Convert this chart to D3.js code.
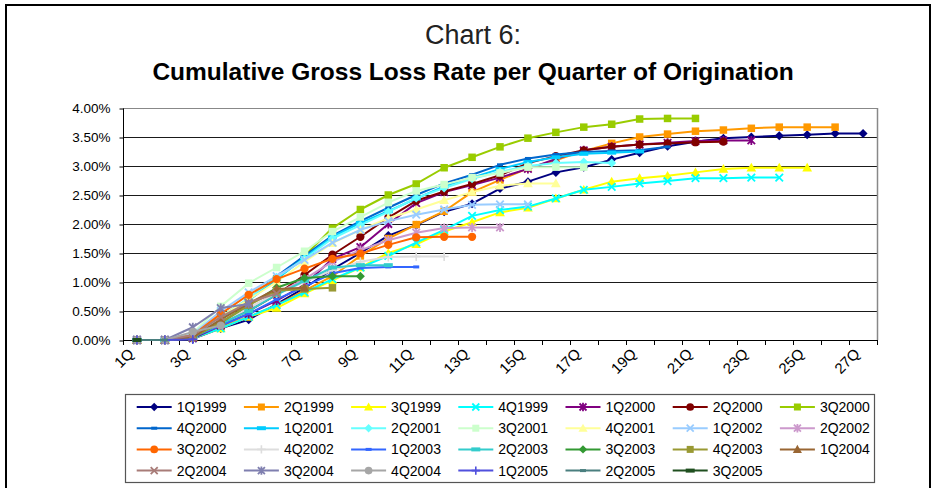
<!DOCTYPE html>
<html><head><meta charset="utf-8">
<script src="https://cdn.jsdelivr.net/npm/d3@7/dist/d3.min.js"></script>
<style>
html,body{margin:0;padding:0;background:#fff;}
svg{display:block;}
text{font-family:"Liberation Sans",Arial,sans-serif;}
</style></head>
<body>
<svg id="chart" width="937" height="488"></svg>
<script>
// ---------- DATA ----------
const categories = d3.range(1, 28).map(i => i + "Q");
const xTickLabels = categories.filter((d, i) => i % 2 === 0);
const yTicks = [0, 0.5, 1, 1.5, 2, 2.5, 3, 3.5, 4];

const seriesNames = ["1Q1999","2Q1999","3Q1999","4Q1999","1Q2000","2Q2000","3Q2000",
  "4Q2000","1Q2001","2Q2001","3Q2001","4Q2001","1Q2002","2Q2002",
  "3Q2002","4Q2002","1Q2003","2Q2003","3Q2003","4Q2003","1Q2004",
  "2Q2004","3Q2004","4Q2004","1Q2005","2Q2005","3Q2005"];

const seriesColors = ["#000080","#FF9900","#FFFF00","#00FFFF","#800080","#800000","#99CC00",
  "#0066CC","#00CCFF","#66FFFF","#CCFFCC","#FFFF99","#99CCFF","#CC99CC",
  "#FF6600","#DDDDDD","#3366FF","#33CCCC","#339933","#999933","#996633",
  "#A87C78","#7F7FAF","#A6A6A6","#5050DD","#4A7F7F","#1F4F1F"];

const seriesMarkers = ["diamond","square","triangle","x","asterisk","circle","square",
  "sdash","ldash","diamond","square","triangle","x","asterisk",
  "circle","plus","sdash","ldash","diamond","square","triangle",
  "x","asterisk","circle","plus","sdash","ldash"];

// cumulative gross loss rate (%) by quarter since origination
const s1Q1999 = [0,0,0.02,0.2,0.35,0.62,0.9,1.22,1.5,1.8,1.98,2.21,2.35,2.61,2.73,2.89,2.98,3.11,3.23,3.34,3.42,3.48,3.5,3.52,3.54,3.56,3.56];
const s2Q1999 = [0,0,0.05,0.22,0.4,0.6,0.85,1.1,1.45,1.75,1.99,2.22,2.55,2.76,2.96,3.1,3.26,3.39,3.5,3.55,3.6,3.62,3.65,3.67,3.67,3.67];
const s3Q1999 = [0,0,0.03,0.2,0.4,0.55,0.8,1.03,1.25,1.5,1.65,1.87,2.03,2.2,2.28,2.44,2.59,2.73,2.79,2.83,2.89,2.95,2.97,2.97,2.97];
const s4Q1999 = [0,0,0.03,0.2,0.4,0.6,0.82,1.05,1.25,1.45,1.68,1.9,2.14,2.24,2.3,2.44,2.59,2.64,2.7,2.74,2.79,2.79,2.8,2.8];
const s1Q2000 = [0,0,0.03,0.25,0.45,0.68,0.95,1.4,1.6,2.0,2.36,2.55,2.67,2.8,2.95,3.12,3.27,3.33,3.37,3.4,3.43,3.44,3.44];
const s2Q2000 = [0,0,0.05,0.3,0.5,0.78,1.12,1.47,1.78,2.11,2.4,2.56,2.69,2.84,3.05,3.17,3.27,3.33,3.37,3.39,3.41,3.42];
const s3Q2000 = [0,0,0.05,0.35,0.7,1.05,1.45,1.93,2.25,2.5,2.69,2.97,3.15,3.33,3.48,3.58,3.67,3.72,3.81,3.82,3.82];
const s4Q2000 = [0,0,0.1,0.4,0.7,1.1,1.45,1.8,2.05,2.28,2.5,2.7,2.85,3.02,3.13,3.2,3.24,3.26,3.27,3.33];
const s1Q2001 = [0,0,0.08,0.38,0.68,1.05,1.42,1.78,2.02,2.22,2.44,2.65,2.8,2.95,3.07,3.15,3.21,3.23,3.25];
const s2Q2001 = [0,0,0.08,0.4,0.72,1.08,1.4,1.75,1.98,2.21,2.45,2.62,2.78,2.9,3.0,3.05,3.07,3.05];
const s3Q2001 = [0,0,0.12,0.58,0.98,1.25,1.53,1.87,2.12,2.37,2.57,2.68,2.8,2.88,2.98,2.98,2.98];
const s4Q2001 = [0,0,0.08,0.4,0.7,1.0,1.35,1.67,1.9,2.1,2.25,2.41,2.55,2.66,2.7,2.7];
const s1Q2002 = [0,0,0.1,0.5,0.82,1.1,1.38,1.68,1.9,2.05,2.16,2.25,2.33,2.34,2.34];
const s2Q2002 = [0,0,0.05,0.3,0.55,0.8,1.05,1.35,1.55,1.72,1.85,1.93,1.94,1.94];
const s3Q2002 = [0,0,0.08,0.45,0.78,1.05,1.23,1.4,1.49,1.64,1.77,1.78,1.78];
const s4Q2002 = [0,0,0.05,0.3,0.55,0.8,1.0,1.2,1.35,1.43,1.44,1.44];
const s1Q2003 = [0,0,0.05,0.25,0.45,0.7,0.92,1.15,1.24,1.26,1.26];
const s2Q2003 = [0,0,0.05,0.28,0.5,0.78,1.02,1.25,1.29,1.29];
const s3Q2003 = [0,0,0.05,0.3,0.6,0.9,1.07,1.1,1.1];
const s4Q2003 = [0,0,0.05,0.3,0.6,0.85,0.88,0.9];
const s1Q2004 = [0,0,0.05,0.35,0.63,0.88,0.9];
const s2Q2004 = [0,0,0.08,0.4,0.65,0.8];
const s3Q2004 = [0,0,0.22,0.55,0.62];
const s4Q2004 = [0,0,0.14,0.25];
const s1Q2005 = [0,0,0.01];
const s2Q2005 = [0,0];
const s3Q2005 = [0];

const seriesValues = [s1Q1999,s2Q1999,s3Q1999,s4Q1999,s1Q2000,s2Q2000,s3Q2000,
  s4Q2000,s1Q2001,s2Q2001,s3Q2001,s4Q2001,s1Q2002,s2Q2002,
  s3Q2002,s4Q2002,s1Q2003,s2Q2003,s3Q2003,s4Q2003,s1Q2004,
  s2Q2004,s3Q2004,s4Q2004,s1Q2005,s2Q2005,s3Q2005];

// ---------- CHART ----------
const svg = d3.select("#chart");
const plot = {left: 123, right: 877, top: 108, bottom: 340};

const x = d3.scaleBand().domain(categories).range([plot.left, plot.right]).padding(0);
const xc = c => x(c) + x.bandwidth() / 2;
const y = d3.scaleLinear().domain([0, 4]).range([plot.bottom, plot.top]);

// outer frame
svg.append("rect").attr("x", 6).attr("y", 5).attr("width", 924).attr("height", 500)
  .attr("fill", "none").attr("stroke", "#000").attr("stroke-width", 2);

// titles
svg.append("text").attr("x", 473).attr("y", 44).attr("text-anchor", "middle")
  .attr("font-size", 27).attr("fill", "#222").text("Chart 6:");
svg.append("text").attr("x", 473).attr("y", 80).attr("text-anchor", "middle")
  .attr("font-size", 24.5).attr("font-weight", "bold").attr("fill", "#000")
  .text("Cumulative Gross Loss Rate per Quarter of Origination");

// gridlines
svg.append("g").selectAll("line").data(yTicks.filter(d => d > 0)).join("line")
  .attr("x1", plot.left).attr("x2", plot.right)
  .attr("y1", d => Math.round(y(d)) + 0.5).attr("y2", d => Math.round(y(d)) + 0.5)
  .attr("stroke", d => d === 4 ? "#888" : "#1a1a1a").attr("stroke-width", 1.2);
// right border of plot area
svg.append("line").attr("x1", plot.right + 0.5).attr("x2", plot.right + 0.5)
  .attr("y1", plot.top).attr("y2", plot.bottom).attr("stroke", "#888").attr("stroke-width", 1.5);

// y axis
const yAxis = svg.append("g").attr("transform", `translate(${plot.left + 0.5},0.5)`)
  .call(d3.axisLeft(y).tickValues(yTicks).tickFormat(d => d.toFixed(2) + "%").tickSize(4).tickPadding(9));
yAxis.select(".domain").attr("stroke", "#000").attr("d", `M-0,${plot.top}V${plot.bottom}`);
yAxis.selectAll(".tick line").attr("stroke", "#000");
yAxis.selectAll("text").attr("font-size", 13.5).attr("fill", "#000")
  .attr("font-family", "Liberation Sans, Arial, sans-serif");

// x axis
const xg = svg.append("g");
xg.append("line").attr("x1", plot.left).attr("x2", plot.right)
  .attr("y1", plot.bottom + 0.5).attr("y2", plot.bottom + 0.5).attr("stroke", "#000");
const edges = categories.map(c => x(c)).concat([plot.right]);
xg.selectAll("line.tk").data(edges).join("line").attr("class", "tk")
  .attr("x1", d => Math.round(d) + 0.5).attr("x2", d => Math.round(d) + 0.5)
  .attr("y1", plot.bottom).attr("y2", plot.bottom + 5).attr("stroke", "#000");
xg.selectAll("text").data(xTickLabels).join("text")
  .attr("transform", d => `translate(${xc(d) - 6},${plot.bottom + 11}) rotate(-45)`)
  .attr("text-anchor", "end").attr("dy", "0.35em")
  .attr("font-size", 15).attr("fill", "#000").text(d => d);

// marker drawing
function drawMarker(g, type, color, size) {
  const s = size;
  switch (type) {
    case "diamond":
      g.append("path").attr("d", `M0,${-s*0.6}L${s*0.6},0L0,${s*0.6}L${-s*0.6},0Z`).attr("fill", color); break;
    case "square":
      g.append("rect").attr("x", -s/2).attr("y", -s/2).attr("width", s).attr("height", s).attr("fill", color); break;
    case "triangle":
      g.append("path").attr("d", `M0,${-s*0.65}L${s*0.65},${s*0.5}L${-s*0.65},${s*0.5}Z`).attr("fill", color); break;
    case "x":
      g.append("path").attr("d", `M${-s/2},${-s/2}L${s/2},${s/2}M${s/2},${-s/2}L${-s/2},${s/2}`)
        .attr("stroke", color).attr("stroke-width", 1.8); break;
    case "asterisk":
      g.append("path").attr("d", `M${-s/2},${-s/2}L${s/2},${s/2}M${s/2},${-s/2}L${-s/2},${s/2}M0,${-s*0.6}L0,${s*0.6}`)
        .attr("stroke", color).attr("stroke-width", 1.8); break;
    case "circle":
      g.append("circle").attr("r", s*0.55).attr("fill", color); break;
    case "plus":
      g.append("path").attr("d", `M${-s*0.6},0L${s*0.6},0M0,${-s*0.6}L0,${s*0.6}`)
        .attr("stroke", color).attr("stroke-width", 1.6); break;
    case "sdash":
      g.append("rect").attr("x", -3).attr("y", -1.5).attr("width", 6).attr("height", 3).attr("fill", color); break;
    case "ldash":
      g.append("rect").attr("x", -4.5).attr("y", -2).attr("width", 9).attr("height", 4).attr("fill", color); break;
  }
}

// series
const line = d3.line().x((d, i) => xc(categories[i])).y(d => y(d));
const series = seriesNames.map((name, i) => ({name, color: seriesColors[i], marker: seriesMarkers[i], values: seriesValues[i]}));
const sg = svg.append("g");
series.forEach(s => {
  const g = sg.append("g");
  g.append("path").datum(s.values).attr("d", line).attr("fill", "none")
    .attr("stroke", s.color).attr("stroke-width", 2).attr("stroke-linejoin", "round");
  s.values.forEach((v, i) => {
    const mg = g.append("g").attr("transform", `translate(${xc(categories[i])},${y(v)})`);
    drawMarker(mg, s.marker, s.color, 7.5);
  });
});

// legend
const leg = svg.append("g");
leg.append("rect").attr("x", 125.5).attr("y", 394.5).attr("width", 749).attr("height", 88)
  .attr("fill", "#fff").attr("stroke", "#555").attr("stroke-width", 1.2);
const colW = 107.2, rowH = 21.2;
series.forEach((s, i) => {
  const c = i % 7, r = Math.floor(i / 7);
  const lx = 136.7 + c * colW, ly = 407 + r * rowH;
  const g = leg.append("g").attr("transform", `translate(${lx},${ly})`);
  g.append("line").attr("x1", 0).attr("x2", 35).attr("stroke", s.color).attr("stroke-width", 2);
  const mg = g.append("g").attr("transform", "translate(17.5,0)");
  drawMarker(mg, s.marker, s.color, 7);
  g.append("text").attr("x", 40).attr("dy", "0.36em").attr("font-size", 14).attr("fill", "#000").text(s.name);
});
</script>
</body></html>
